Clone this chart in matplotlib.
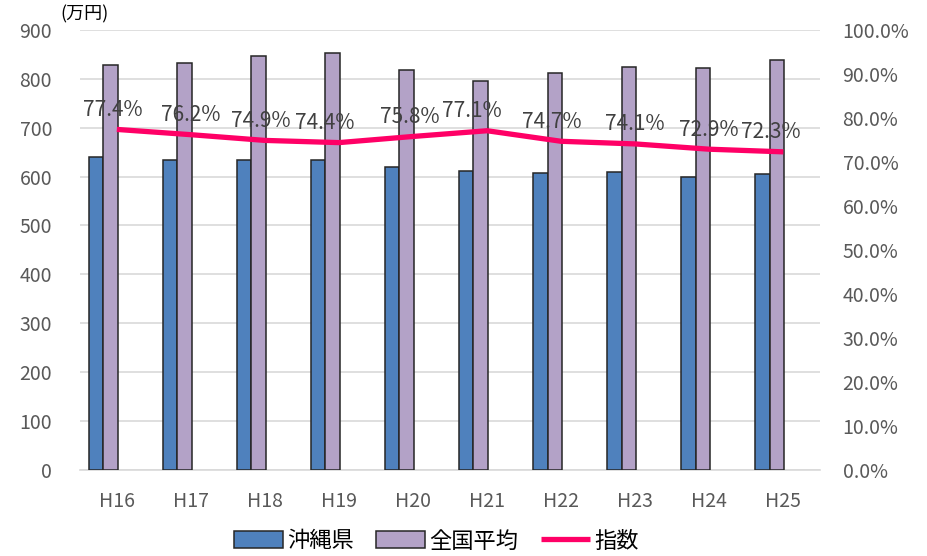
import matplotlib
matplotlib.use('Agg')
import matplotlib.pyplot as plt
import numpy as np
from matplotlib.ticker import PercentFormatter

plt.rcParams['font.family'] = ['Noto Sans CJK JP', 'DejaVu Sans']

years = ['H16', 'H17', 'H18', 'H19', 'H20', 'H21', 'H22', 'H23', 'H24', 'H25']
okinawa = [640, 634, 634, 634, 620, 612, 607, 610, 599, 605]
national = [828, 832, 847, 853, 818, 795, 812, 824, 822, 838]
index_pct = [77.4, 76.2, 74.9, 74.4, 75.8, 77.1, 74.7, 74.1, 72.9, 72.3]

blue = '#4F81BD'
purple = '#B3A2C7'
pink = '#FF0066'
grey = '#595959'

fig = plt.figure(figsize=(9.28, 5.56), dpi=100)
ax = fig.add_axes([0.086, 0.155, 0.798, 0.791])
ax2 = ax.twinx()

x = np.arange(len(years))
w = 0.196
ax.bar(x - 0.282, okinawa, w, color=blue, edgecolor='#262626', linewidth=1.1, label='沖縄県', zorder=3)
ax.bar(x - 0.086, national, w, color=purple, edgecolor='#262626', linewidth=1.1, label='全国平均', zorder=3)

ax2.plot(x, index_pct, color=pink, linewidth=3.8, label='指数', solid_capstyle='butt')
# small sideways nudges so labels clear the bars, like the original
nudge = [-3, 0, -3, -10, -2, -11, -7, 0, 0, -9]
for xi, v, dx in zip(x, index_pct, nudge):
    ax2.annotate(f'{v:.1f}%', (xi, v), xytext=(dx, 14), textcoords='offset points',
                 ha='center', va='center', fontsize=15, color='#404040')

ax.set_xlim(-0.5, len(years) - 0.5)
ax.set_ylim(0, 900)
ax.set_yticks(range(0, 901, 100))
ax2.set_ylim(0, 100)
ax2.set_yticks(range(0, 101, 10))
ax2.yaxis.set_major_formatter(PercentFormatter(decimals=1))

ax.set_xticks(x)
ax.set_xticklabels(years)
ax.grid(axis='y', color='#D9D9D9', linewidth=1.2, zorder=0)
ax.set_axisbelow(True)

for a in (ax, ax2):
    for s in a.spines.values():
        s.set_visible(False)
ax.spines['bottom'].set_visible(True)
ax.spines['bottom'].set_color('#D9D9D9')
ax.spines['bottom'].set_linewidth(1.2)

ax.tick_params(axis='y', length=0, pad=20, labelsize=14, labelcolor=grey)
ax.tick_params(axis='x', length=0, pad=15, labelsize=14, labelcolor=grey)
ax2.tick_params(axis='y', length=0, pad=16, labelsize=14, labelcolor=grey)

fig.text(0.065, 0.975, '(万円)', fontsize=13, color='black', va='center')

h1, l1 = ax.get_legend_handles_labels()
h2, l2 = ax2.get_legend_handles_labels()
fig.legend(h1 + h2, l1 + l2, loc='center', bbox_to_anchor=(0.47, 0.027), ncol=3,
           frameon=False, fontsize=16, handlelength=2.2, handleheight=0.8,
           handletextpad=0.2, columnspacing=1.0)

fig.savefig('out.png', dpi=100)
